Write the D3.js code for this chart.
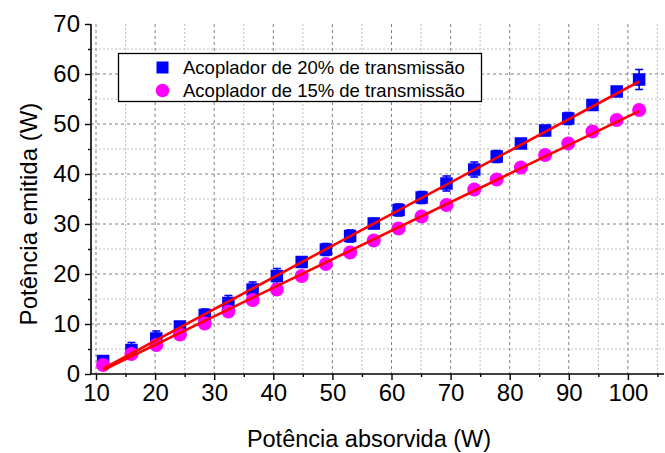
<!DOCTYPE html>
<html>
<head>
<meta charset="utf-8">
<script src="https://cdn.jsdelivr.net/npm/d3@7"></script>
<style>
  html, body { margin: 0; padding: 0; background: #fff; }
  svg { display: block; font-family: "Liberation Sans", Arial, sans-serif; }
</style>
</head>
<body>
<svg id="chart" width="665" height="453"></svg>
<script>
// ---- data ----
const absorbed = [11.2, 16.0, 20.2, 24.2, 28.4, 32.4, 36.5, 40.6, 44.8, 48.9, 53.0, 57.0, 61.2, 65.1, 69.3, 74.0, 77.8, 81.9, 86.0, 89.9, 94.0, 98.1, 101.9];
const emitted20 = [2.6, 4.8, 7.1, 9.5, 11.8, 14.2, 16.9, 19.6, 22.4, 24.9, 27.6, 30.1, 32.8, 35.3, 38.1, 40.9, 43.5, 46.1, 48.7, 51.1, 53.8, 56.5, 58.9];
const error20   = [1.0, 1.5, 1.5, 0.8, 1.2, 1.5, 1.5, 1.5, 1.0, 1.2, 1.2, 1.0, 1.2, 1.2, 1.5, 1.5, 1.2, 0.8, 1.0, 1.2, 0.8, 0.8, 2.0];
const emitted15 = [1.8, 4.0, 5.8, 7.9, 10.1, 12.5, 14.8, 16.9, 19.6, 22.0, 24.3, 26.7, 29.1, 31.5, 33.8, 36.9, 38.9, 41.3, 43.8, 46.1, 48.5, 50.8, 52.8];
const fitSlope     = [0.633, 0.571];
const fitIntercept = [-6.0, -5.6];
const fitRange = [11.2, 101.9];
const seriesNames = ["Acoplador de 20% de transmissão", "Acoplador de 15% de transmissão"];
const xTicks = [10, 20, 30, 40, 50, 60, 70, 80, 90, 100];
const xMinor = [15, 25, 35, 45, 55, 65, 75, 85, 95, 105];
const yTicks = [0, 10, 20, 30, 40, 50, 60, 70];
const yMinor = [5, 15, 25, 35, 45, 55, 65];
const xTitle = "Potência absorvida (W)";
const yTitle = "Potência emitida (W)";

// ---- layout ----
const svg = d3.select("#chart");
const pL = 91, pR = 664, pT = 24, pB = 374;
const x = d3.scaleLinear()
  .domain([10 - (96 - pL) / 5.91, 10 + (pR - 96) / 5.91]).range([pL, pR]);
const y = d3.scaleLinear().domain([0, 70]).range([pB, pT]);

// grid
const grid = svg.append("g");
grid.selectAll(".vminor").data(xMinor).join("line")
  .attr("x1", d => x(d)).attr("x2", d => x(d)).attr("y1", pT).attr("y2", pB)
  .attr("stroke", "#c0c0c0").attr("stroke-width", 1).attr("stroke-dasharray", "2,2");
grid.selectAll(".hminor").data(yMinor).join("line")
  .attr("x1", pL).attr("x2", pR).attr("y1", d => y(d)).attr("y2", d => y(d))
  .attr("stroke", "#c0c0c0").attr("stroke-width", 1).attr("stroke-dasharray", "2,2");
grid.selectAll(".vmajor").data(xTicks).join("line")
  .attr("x1", d => x(d)).attr("x2", d => x(d)).attr("y1", pT).attr("y2", pB)
  .attr("stroke", "#808080").attr("stroke-width", 1).attr("stroke-dasharray", "3,3");
grid.selectAll(".hmajor").data(yTicks.filter(d => d > 0 && d < 70)).join("line")
  .attr("x1", pL).attr("x2", pR).attr("y1", d => y(d)).attr("y2", d => y(d))
  .attr("stroke", "#808080").attr("stroke-width", 1).attr("stroke-dasharray", "3,3");

// axes
const xAxis = d3.axisBottom(x).tickValues(xTicks).tickSize(6).tickPadding(4).tickFormat(d3.format("d"));
const xAxisMinor = d3.axisBottom(x).tickValues(xMinor).tickSize(3).tickFormat("");
const yAxis = d3.axisLeft(y).tickValues(yTicks).tickSize(6).tickPadding(5).tickFormat(d3.format("d"));
const yAxisMinor = d3.axisLeft(y).tickValues(yMinor).tickSize(3).tickFormat("");

const gx = svg.append("g").attr("transform", `translate(0,${pB})`).call(xAxis);
svg.append("g").attr("transform", `translate(0,${pB})`).call(xAxisMinor).select(".domain").remove();
const gy = svg.append("g").attr("transform", `translate(${pL},0)`).call(yAxis);
svg.append("g").attr("transform", `translate(${pL},0)`).call(yAxisMinor).select(".domain").remove();

svg.selectAll(".domain").attr("stroke", "#000").attr("stroke-width", 1.6);
svg.selectAll(".tick line").attr("stroke", "#000").attr("stroke-width", 1.4);
gx.selectAll("text").attr("font-size", 24).attr("fill", "#000")
  .attr("font-family", "Liberation Sans, Arial, sans-serif");
gy.selectAll("text").attr("font-size", 24).attr("fill", "#000")
  .attr("font-family", "Liberation Sans, Arial, sans-serif");
gx.select(".domain").attr("d", `M${pL},0H${pR}`);
gy.select(".domain").attr("d", `M0,${pB}V${pT}`);

// error bars (20%)
const eb = svg.append("g").attr("stroke", "#0000ff").attr("stroke-width", 1.6);
absorbed.forEach((a, i) => {
  const cx = x(a), y1 = y(emitted20[i] + error20[i]), y0 = y(emitted20[i] - error20[i]);
  eb.append("line").attr("x1", cx).attr("x2", cx).attr("y1", y1).attr("y2", y0);
  eb.append("line").attr("x1", cx - 4).attr("x2", cx + 4).attr("y1", y1).attr("y2", y1);
  eb.append("line").attr("x1", cx - 4).attr("x2", cx + 4).attr("y1", y0).attr("y2", y0);
});

// markers
const sq = 12.5;
svg.append("g").selectAll("rect").data(absorbed).join("rect")
  .attr("x", d => x(d) - sq / 2).attr("y", (d, i) => y(emitted20[i]) - sq / 2)
  .attr("width", sq).attr("height", sq).attr("fill", "#0000ff");
svg.append("g").selectAll("circle").data(absorbed).join("circle")
  .attr("cx", d => x(d)).attr("cy", (d, i) => y(emitted15[i])).attr("r", 7)
  .attr("fill", "#ff00ff");

// fit lines
fitSlope.forEach((m, k) => {
  svg.append("line")
    .attr("x1", x(fitRange[0])).attr("y1", y(m * fitRange[0] + fitIntercept[k]))
    .attr("x2", x(fitRange[1])).attr("y2", y(m * fitRange[1] + fitIntercept[k]))
    .attr("stroke", "#ff0000").attr("stroke-width", 2.6);
});

// legend
const lg = svg.append("g");
lg.append("rect").attr("x", 118.5).attr("y", 53.5).attr("width", 363).attr("height", 48)
  .attr("fill", "#fff").attr("stroke", "#000").attr("stroke-width", 1.3);
lg.append("rect").attr("x", 162.5 - 6).attr("y", 67.5 - 6).attr("width", 12).attr("height", 12).attr("fill", "#0000ff");
lg.append("circle").attr("cx", 162.5).attr("cy", 90.5).attr("r", 6.8).attr("fill", "#ff00ff");
lg.selectAll("text").data(seriesNames).join("text")
  .attr("x", 183).attr("y", (d, i) => 73.5 + i * 23)
  .attr("font-size", 18.5).attr("fill", "#000").text(d => d);

// axis titles
svg.append("text").attr("x", 369).attr("y", 447).attr("text-anchor", "middle")
  .attr("font-size", 23.5).attr("fill", "#000").text(xTitle);
svg.append("text").attr("transform", "translate(37,214) rotate(-90)").attr("text-anchor", "middle")
  .attr("font-size", 24).attr("fill", "#000").text(yTitle);
</script>
</body>
</html>
